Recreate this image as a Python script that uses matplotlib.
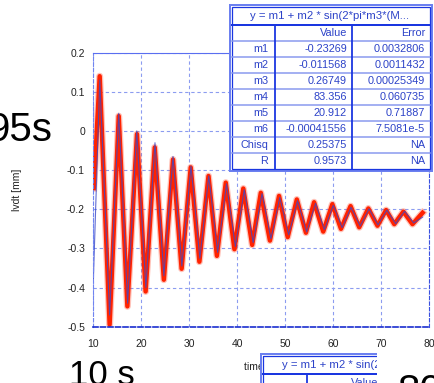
import matplotlib.pyplot as plt
import matplotlib.transforms as mtransforms
from matplotlib.lines import Line2D
from matplotlib.patches import Rectangle

plt.rcParams['font.family'] = ['Liberation Sans', 'DejaVu Sans']
plt.rcParams['axes.unicode_minus'] = False

t_meas = [10.1, 11.33, 13.4, 15.3, 17.1, 19.1, 20.9, 22.8, 24.7, 26.6, 28.4, 30.3,
          32.1, 34.0, 35.75, 37.6, 39.4, 41.25, 43.1, 44.9, 46.8, 48.7, 50.5, 52.4,
          54.3, 56.0, 57.9, 59.8, 61.6, 63.6, 65.4, 67.3, 69.2, 71.0, 72.7, 74.6,
          76.5, 78.6]
y_meas = [-0.146, 0.140, -0.495, 0.038, -0.448, -0.008, -0.410, -0.042, -0.380, -0.073,
          -0.352, -0.093, -0.334, -0.115, -0.319, -0.132, -0.302, -0.147, -0.291, -0.158,
          -0.280, -0.166, -0.271, -0.175, -0.260, -0.182, -0.257, -0.187, -0.250, -0.192,
          -0.246, -0.198, -0.242, -0.202, -0.238, -0.206, -0.238, -0.209]

# fitted curve (blue)
t_fit = [10.0, 11.35, 13.4, 15.3, 17.15, 19.05, 20.95, 22.85, 24.7, 26.6, 28.45, 30.35,
         32.2, 34.05, 35.9, 37.75, 39.6, 41.45, 43.3, 45.15, 47.0, 48.85, 50.7, 52.55,
         54.45, 56.3, 58.15, 60.0, 61.85, 63.7, 65.6, 67.45, 69.3, 71.15, 73.0, 74.85,
         76.75, 78.6]
y_fit = [-0.385, 0.130, -0.470, 0.045, -0.440, 0.000, -0.400, -0.030, -0.370, -0.065,
         -0.345, -0.090, -0.325, -0.115, -0.310, -0.135, -0.295, -0.150, -0.285, -0.160,
         -0.275, -0.170, -0.265, -0.178, -0.258, -0.185, -0.252, -0.190, -0.247, -0.195,
         -0.243, -0.199, -0.240, -0.202, -0.237, -0.205, -0.235, -0.220]

fit_title = 'y = m1 + m2 * sin(2*pi*m3*(M...'
params = ['m1', 'm2', 'm3', 'm4', 'm5', 'm6', 'Chisq', 'R']
values = ['-0.23269', '-0.011568', '0.26749', '83.356', '20.912', '-0.00041556', '0.25375', '0.9573']
errors = ['0.0032806', '0.0011432', '0.00025349', '0.060735', '0.71887', '7.5081e-5', 'NA', 'NA']

xticks = [10, 20, 30, 40, 50, 60, 70, 80]
yticks = [-0.5, -0.4, -0.3, -0.2, -0.1, 0, 0.1, 0.2]
ytick_labels = ['-0.5', '-0.4', '-0.3', '-0.2', '-0.1', '0', '0.1', '0.2']

W, H = 434, 383
fig = plt.figure(figsize=(W / 100, H / 100), dpi=100)
# pixel coords, origin top-left
px = mtransforms.Affine2D().scale(1 / W, -1 / H).translate(0, 1) + fig.transFigure

ax = fig.add_axes([93.3 / W, 1 - 326.7 / H, 336 / W, 274 / H])
ax.plot(t_meas, y_meas, color='#ff3a1a', lw=5.0, alpha=0.3, solid_joinstyle='round')
ax.plot(t_meas, y_meas, color='#ff2200', lw=3.2, solid_joinstyle='round')
ax.plot(t_fit, y_fit, color='#3a48c8', lw=0.8, alpha=0.8)

ax.set_xlim(10, 80)
ax.set_ylim(-0.5, 0.2)
ax.set_xticks(xticks)
ax.set_yticks(yticks)
ax.set_yticklabels(ytick_labels)
ax.tick_params(length=0, labelsize=7.5, colors='#222222')
ax.tick_params(axis='y', pad=6)
ax.tick_params(axis='x', pad=9)
ax.grid(True, color='#8c9cf0', lw=0.8, ls=(0, (3, 2.5)))

ax.spines['top'].set_color('#5a6ef0')
ax.spines['left'].set_color('#7084f0')
ax.spines['left'].set_linestyle((0, (3, 2)))
ax.spines['bottom'].set_color('#1a2ecf')
ax.spines['bottom'].set_linestyle((0, (3, 1.5)))
ax.spines['bottom'].set_linewidth(1.2)
ax.spines['right'].set_color('#3a50e0')
ax.spines['right'].set_linestyle((0, (3, 2)))

ax.set_ylabel('lvdt [mm]', fontsize=7.5, color='#222222')
ax.yaxis.set_label_coords(-0.212, 0.5)
ax.set_xlabel('time [s]', fontsize=7.5, color='#222222')
ax.xaxis.set_label_coords(0.5, -0.13)


def hline(x1, x2, y, color, w, z):
    fig.add_artist(Line2D([x1, x2], [y, y], transform=px, color=color, lw=w * 0.72, zorder=z))


def vline(x, y1, y2, color, w, z):
    fig.add_artist(Line2D([x, x], [y1, y2], transform=px, color=color, lw=w * 0.72, zorder=z))


def draw_table(x0, y0, z):
    dark = '#1a36e0'
    light = '#8898ee'
    txt = '#2c42c8'
    fig.add_artist(Rectangle((x0, y0), 202, 165.5, transform=px, facecolor='white',
                             edgecolor='#6c80f0', lw=2 * 0.72, zorder=z))
    fig.add_artist(Rectangle((x0 + 2, y0 + 2), 198, 161.5, transform=px, facecolor='none',
                             edgecolor=dark, lw=0.9, zorder=z + 0.1))
    fig.text(x0 + 100.5, y0 + 11, fit_title, transform=px, ha='center', va='center',
             fontsize=8.2, color=txt, zorder=z + 0.3)
    hline(x0 + 2, x0 + 200, y0 + 20, dark, 2, z + 0.2)
    for k in range(1, 9):
        hline(x0 + 2, x0 + 200, y0 + 20 + 16 * k, light, 1.5, z + 0.1)
    vline(x0 + 45.5, y0 + 20, y0 + 163.5, dark, 1.8, z + 0.2)
    vline(x0 + 122.5, y0 + 20, y0 + 163.5, dark, 1.8, z + 0.2)
    rows = [('', 'Value', 'Error')] + list(zip(params, values, errors))
    for k, (p, v, e) in enumerate(rows):
        yc = y0 + 28.5 + 16 * k
        for xr, s in ((38.5, p), (117.5, v), (195.5, e)):
            fig.text(x0 + xr, yc, s, transform=px, ha='right', va='center',
                     fontsize=7.8, color=txt, zorder=z + 0.3)


draw_table(229.5, 5, 5)
draw_table(261, 354, 5)
# second copy of the table is cut off on the right
fig.add_artist(Rectangle((377, 352), 60, 40, transform=px, facecolor='white',
                         edgecolor='none', zorder=8))

fig.text(52, 141, '95s', transform=px, ha='right', va='baseline', fontsize=29,
         color='black', zorder=10)
fig.text(69, 385, '10 s', transform=px, ha='left', va='baseline', fontsize=25,
         color='black', zorder=10)
fig.text(397, 403, '80', transform=px, ha='left', va='baseline', fontsize=29,
         color='black', zorder=10)

fig.savefig('out.png', dpi=100)
